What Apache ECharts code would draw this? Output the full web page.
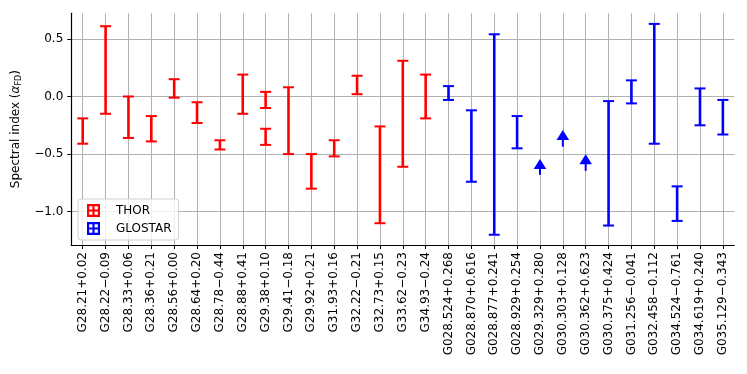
<!DOCTYPE html>
<html>
<head>
<meta charset="utf-8">
<script src="https://cdn.jsdelivr.net/npm/echarts@6/dist/echarts.min.js"></script>
<style>
  html, body { margin: 0; padding: 0; background: #fff; }
  #chart { width: 747px; height: 374px; }
</style>
</head>
<body>
<div id="chart"></div>
<script>
// x categories (source names), U+2212 used for the minus sign
const categories = [
  'G28.21+0.02', 'G28.22\u22120.09', 'G28.33+0.06', 'G28.36+0.21', 'G28.56+0.00',
  'G28.64+0.20', 'G28.78\u22120.44', 'G28.88+0.41', 'G29.38+0.10', 'G29.41\u22120.18',
  'G29.92+0.21', 'G31.93+0.16', 'G32.22\u22120.21', 'G32.73+0.15', 'G33.62\u22120.23',
  'G34.93\u22120.24', 'G028.524+0.268', 'G028.870+0.616', 'G028.877+0.241', 'G028.929+0.254',
  'G029.329+0.280', 'G030.303+0.128', 'G030.362+0.623', 'G030.375+0.424', 'G031.256\u22120.041',
  'G032.458\u22120.112', 'G034.524\u22120.761', 'G034.619+0.240', 'G035.129\u22120.343'
];

// THOR error bars (G29.38+0.10 has two)
const thorIdx  = [0, 1, 2, 3, 4, 5, 6, 7, 8, 8, 9, 10, 11, 12, 13, 14, 15];
const thorLow  = [-0.41, -0.15, -0.36, -0.39, -0.01, -0.23, -0.46, -0.15, -0.10, -0.42, -0.50, -0.80, -0.52, 0.02, -1.10, -0.61, -0.19];
const thorHigh = [-0.19, 0.61, 0.00, -0.17, 0.15, -0.05, -0.38, 0.19, 0.04, -0.28, 0.08, -0.50, -0.38, 0.18, -0.26, 0.31, 0.19];

// GLOSTAR error bars
const glostarIdx  = [16, 17, 18, 19, 23, 24, 25, 26, 27, 28];
const glostarLow  = [-0.03, -0.74, -1.20, -0.45, -1.12, -0.06, -0.41, -1.08, -0.25, -0.33];
const glostarHigh = [0.09, -0.12, 0.54, -0.17, -0.04, 0.14, 0.63, -0.78, 0.07, -0.03];

// GLOSTAR lower limits (arrow markers)
const limitIdx   = [20, 21, 22];
const limitValue = [-0.585, -0.335, -0.545];
const limitStem  = [-0.68, -0.435, -0.645];

const yTicks = [-1.0, -0.5, 0.0, 0.5];

const FONT = 'DejaVu Sans';
const legendIcon = 'path://M0 0H12V2H0Z M0 10H12V12H0Z M0 0H2V12H0Z M10 0H12V12H10Z M5 0H7V12H5Z M0 5H12V7H0Z';

function renderBar(params, api) {
  const lo = api.coord([api.value(0), api.value(1)]);
  const hi = api.coord([api.value(0), api.value(2)]);
  const color = api.visual('color');
  const half = 5.5;
  return {
    type: 'group',
    children: [
      { type: 'line', shape: { x1: lo[0], y1: lo[1], x2: hi[0], y2: hi[1] }, style: { stroke: color, lineWidth: 2.6 } },
      { type: 'line', shape: { x1: lo[0] - half, y1: lo[1], x2: lo[0] + half, y2: lo[1] }, style: { stroke: color, lineWidth: 2 } },
      { type: 'line', shape: { x1: hi[0] - half, y1: hi[1], x2: hi[0] + half, y2: hi[1] }, style: { stroke: color, lineWidth: 2 } }
    ]
  };
}

function renderLimit(params, api) {
  const p = api.coord([api.value(0), api.value(1)]);
  const s = api.coord([api.value(0), api.value(2)]);
  const color = api.visual('color');
  return {
    type: 'group',
    children: [
      { type: 'line', shape: { x1: s[0], y1: s[1], x2: p[0], y2: p[1] }, style: { stroke: color, lineWidth: 2 } },
      { type: 'polygon', shape: { points: [[p[0], p[1] - 5], [p[0] - 6.3, p[1] + 5], [p[0] + 6.3, p[1] + 5]] }, style: { fill: color } }
    ]
  };
}

const thorData = thorIdx.map((c, i) => [c, thorLow[i], thorHigh[i]]);
const glostarData = glostarIdx.map((c, i) => [c, glostarLow[i], glostarHigh[i]]);
const limitData = limitIdx.map((c, i) => [c, limitValue[i], limitStem[i]]);

const chart = echarts.init(document.getElementById('chart'), null, { renderer: 'canvas' });

const option = {
  animation: false,
  textStyle: { fontFamily: FONT },
  grid: { left: 71.3, right: 12.7, top: 13.3, bottom: 129, outerBoundsMode: 'none' },
  legend: {
    orient: 'vertical',
    left: 78,
    top: 199,
    padding: [5, 7, 5, 9],
    itemGap: 5,
    itemWidth: 13,
    itemHeight: 13,
    backgroundColor: 'rgba(255,255,255,0.8)',
    borderColor: '#d0d0d0',
    borderWidth: 1,
    borderRadius: 3,
    textStyle: { fontFamily: FONT, fontSize: 12, color: '#000', padding: [0, 0, 0, 11] },
    data: [
      { name: 'THOR', icon: legendIcon },
      { name: 'GLOSTAR', icon: legendIcon }
    ]
  },
  xAxis: {
    type: 'category',
    data: categories,
    boundaryGap: true,
    axisLine: { show: true, onZero: false, lineStyle: { color: '#000', width: 1.2 } },
    axisTick: { show: true, alignWithLabel: true, interval: 0, length: 4, lineStyle: { color: '#000', width: 1 } },
    axisLabel: { interval: 0, rotate: 90, margin: 7, fontFamily: FONT, fontSize: 12, color: '#000' },
    splitLine: { show: true, interval: 0, alignWithLabel: true, lineStyle: { color: '#b0b0b0', width: 1 } }
  },
  yAxis: {
    type: 'value',
    min: -1.289,
    max: 0.722,
    name: '{a|Spectral index (}{g|\u03b1}{s|FD}{a|)}',
    nameLocation: 'middle',
    nameRotate: 90,
    nameGap: 37,
    nameTextStyle: {
      rich: {
        a: { fontFamily: FONT, fontSize: 12, color: '#000', lineHeight: 15 },
        g: { fontFamily: FONT, fontSize: 12, fontStyle: 'italic', color: '#000', lineHeight: 15 },
        s: { fontFamily: FONT, fontSize: 8, color: '#000', lineHeight: 9, verticalAlign: 'bottom' }
      }
    },
    axisLine: { show: true, onZero: false, lineStyle: { color: '#000', width: 1.2 } },
    axisTick: { show: true, length: 4, customValues: yTicks, lineStyle: { color: '#000', width: 1 } },
    axisLabel: {
      customValues: yTicks,
      margin: 8,
      fontFamily: FONT,
      fontSize: 12,
      color: '#000',
      formatter: v => v.toFixed(1).replace('-', '\u2212')
    },
    splitLine: { show: true, lineStyle: { color: '#b0b0b0', width: 1 } }
  },
  series: [
    {
      name: 'THOR',
      type: 'custom',
      color: '#ff0000',
      renderItem: renderBar,
      encode: { x: 0, y: [1, 2] },
      data: thorData
    },
    {
      name: 'GLOSTAR',
      type: 'custom',
      color: '#0000ff',
      renderItem: renderBar,
      encode: { x: 0, y: [1, 2] },
      data: glostarData
    },
    {
      name: 'GLOSTAR',
      type: 'custom',
      color: '#0000ff',
      renderItem: renderLimit,
      encode: { x: 0, y: [1, 2] },
      data: limitData
    }
  ]
};

chart.setOption(option);
</script>
</body>
</html>
